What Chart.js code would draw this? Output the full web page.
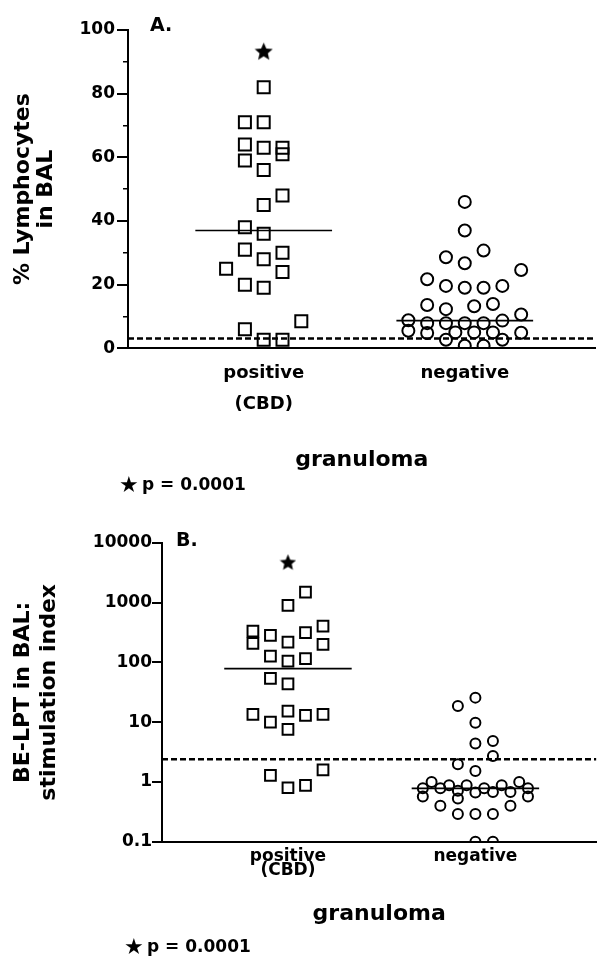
<!DOCTYPE html>
<html><head><meta charset="utf-8">
<script src="https://cdn.jsdelivr.net/npm/chart.js@4"></script>
<style>
html,body{margin:0;padding:0;background:#fff;}
#wrap{position:relative;width:606px;height:964px;background:#fff;}
canvas{position:absolute;left:0;}
#cA{top:0;}
#cB{top:500px;}
</style></head><body>
<div id="wrap"><canvas id="cA" width="606" height="500"></canvas><canvas id="cB" width="606" height="464"></canvas></div>
<script>
// ---------- data ----------
const categories = [['positive', '(CBD)'], 'negative'];
const xTitle = 'granuloma';
const footStar = '\u2605';
const footText = 'p = 0.0001';

// Panel A: % lymphocytes in BAL
const lymphYTitle = ['% Lymphocytes', 'in BAL'];
const lymphTicks = [0, 20, 40, 60, 80, 100];
const lymphMinorTicks = [10, 30, 50, 70, 90];
const lymphPositive = [82, 71, 71, 64, 59, 63, 56, 63, 61, 48, 45, 38, 36, 31, 28, 30, 25, 24, 20, 19, 8.5, 6, 2.7, 2.7];
const lymphPositiveSlot = [0, -1, 0, -1, -1, 0, 0, 1, 1, 1, 0, -1, 0, -1, 0, 1, -2, 1, -1, 0, 2, -1, 0, 1];
const lymphNegative = [46, 37, 28.6, 30.7, 26.7, 24.6, 21.7, 19.6, 19, 19, 19.6, 13.6, 12.3, 13.2, 13.9, 10.6, 8.8, 7.9, 7.9, 7.9, 7.9, 8.7, 5.5, 4.8, 5, 5, 5, 4.9, 2.7, 2.7, 0.8, 0.8];
const lymphNegativeSlot = [0, 0, -1, 1, 0, 3, -2, -1, 0, 1, 2, -2, -1, 0.5, 1.5, 3, -3, -2, -1, 0, 1, 2, -3, -2, -0.5, 0.5, 1.5, 3, -1, 2, 0, 1];
const lymphMedians = [37, 8.7];
const lymphCutoff = 3.1;
const lymphStar = 93.4;

// Panel B: BE-LPT stimulation index
const lptYTitle = ['BE-LPT in BAL:', 'stimulation index'];
const lptTicks = [0.1, 1, 10, 100, 1000, 10000];
const lptTickLabels = ['0.1', '1', '10', '100', '1000', '10000'];
const lptPositive = [1510, 900, 335, 209, 284, 219, 315, 407, 200, 128, 105, 116, 54, 44, 13.5, 10, 15.4, 7.6, 13, 13.5, 1.29, 0.8, 0.88, 1.59];
const lptPositiveSlot = [1, 0, -2, -2, -1, 0, 1, 2, 2, -1, 0, 1, -1, 0, -2, -1, 0, 0, 1, 2, -1, 0, 1, 2];
const lptNegative = [25.8, 18.7, 9.8, 4.4, 4.85, 2.72, 1.98, 1.53, 1.0, 1.0, 0.88, 0.88, 0.88, 0.785, 0.785, 0.785, 0.785, 0.71, 0.68, 0.68, 0.665, 0.57, 0.53, 0.57, 0.4, 0.4, 0.29, 0.29, 0.29, 0.1, 0.1];
const lptNegativeSlot = [0, -1, 0, 0, 1, 1, -1, 0, -2.5, 2.5, -1.5, -0.5, 1.5, -3, -2, 0.5, 3, -1, 1, 2, 0, -3, -1, 3, -2, 2, -1, 0, 1, 0, 1];
const lptMedians = [79, 0.78];
const lptCutoff = 2.4;
const lptStar = 4800;

// ---------- helpers ----------
const FONT = "'DejaVu Sans', sans-serif";
const SLOT = 0.0935;      // horizontal spacing of jittered points (x units)
const MED_HALF = 0.34;    // half width of median bars (x units)

function pts(values, slots, cat) {
  return values.map((v, i) => ({ x: cat + slots[i] * SLOT, y: v }));
}
function starImage(size) {
  const c = document.createElement('canvas');
  c.width = c.height = size;
  const g = c.getContext('2d');
  g.fillStyle = '#000';
  g.beginPath();
  const cx = size / 2, cy = size / 2 + size * 0.05, R = size / 2, r = R * 0.46;
  for (let i = 0; i < 10; i++) {
    const a = -Math.PI / 2 + i * Math.PI / 5;
    const rad = i % 2 ? r : R;
    g.lineTo(cx + rad * Math.cos(a), cy + rad * Math.sin(a));
  }
  g.closePath();
  g.fill();
  return c;
}
const textPlugin = {
  id: 'panelText',
  afterDraw(chart, args, opts) {
    const ctx = chart.ctx;
    ctx.save();
    for (const t of (opts.items || [])) {
      ctx.font = t.font;
      ctx.fillStyle = '#000';
      ctx.textAlign = 'left';
      ctx.textBaseline = 'middle';
      ctx.fillText(t.text, t.x, t.y);
    }
    ctx.restore();
  }
};
Chart.register(textPlugin);

function panel(canvasId, p) {
  const markerBase = { borderColor: '#000', backgroundColor: 'rgba(0,0,0,0)', borderWidth: 2 };
  const lineBase = { type: 'line', borderColor: '#000', pointRadius: 0, fill: false, tension: 0 };
  return new Chart(document.getElementById(canvasId), {
    type: 'scatter',
    data: {
      datasets: [
        Object.assign({ data: pts(p.pos, p.posSlot, 1), pointStyle: 'rect', pointRadius: p.rectR }, markerBase),
        Object.assign({ data: pts(p.neg, p.negSlot, 2), pointStyle: 'circle', pointRadius: p.circR }, markerBase),
        Object.assign({ data: [{ x: 1 - MED_HALF, y: p.medians[0] }, { x: 1 + MED_HALF, y: p.medians[0] }], borderWidth: 1.6 }, lineBase),
        Object.assign({ data: [{ x: 2 - MED_HALF, y: p.medians[1] }, { x: 2 + MED_HALF, y: p.medians[1] }], borderWidth: 1.6 }, lineBase),
        Object.assign({ data: [{ x: p.xMin, y: p.cutoff }, { x: p.xMax, y: p.cutoff }], borderWidth: 2.5, borderDash: [6, 3] }, lineBase),
        { data: [{ x: 1, y: p.star }], pointStyle: starImage(p.starSize), pointRadius: p.starSize / 2 }
      ]
    },
    options: {
      responsive: false,
      animation: false,
      events: [],
      layout: { padding: { top: p.padTop, right: 6, left: 0, bottom: 0 } },
      plugins: {
        legend: { display: false },
        tooltip: { enabled: false },
        panelText: { items: p.texts }
      },
      scales: p.scales
    }
  });
}

// ---------- Panel A ----------
const xMinA = 0.3251, xMaxA = 2.6502;
panel('cA', {
  pos: lymphPositive, posSlot: lymphPositiveSlot,
  neg: lymphNegative, negSlot: lymphNegativeSlot,
  medians: lymphMedians, cutoff: lymphCutoff, star: lymphStar, starSize: 19,
  rectR: 8.5, circR: 6, xMin: xMinA, xMax: xMaxA, padTop: 30,
  texts: [
    { text: 'A.', x: 150, y: 26, font: "bold 19px " + FONT },
    { text: footStar, x: 119, y: 486, font: "bold 22px " + FONT },
    { text: footText, x: 142, y: 486, font: "bold 17px " + FONT }
  ],
  scales: {
    x: {
      type: 'linear', min: xMinA, max: xMaxA,
      afterBuildTicks: s => { s.ticks = categories.map((c, i) => ({ value: i + 1 })); },
      afterFit: s => { s.height = 151.7; },
      grid: { display: false, drawTicks: false },
      border: { display: true, color: '#000', width: 2 },
      ticks: { callback: (v, i) => categories[i], color: '#000', autoSkip: false, maxRotation: 0, padding: 9,
               font: { family: FONT, size: 18, weight: 'bold', lineHeight: 1.75 } },
      title: { display: true, text: xTitle, color: '#000', padding: { top: 0, bottom: 26.8 },
               font: { family: FONT, size: 22, weight: 'bold', lineHeight: 1.2 } }
    },
    yMinor: {
      type: 'linear', position: 'left', min: 0, max: 100, weight: 0,
      afterBuildTicks: s => { s.ticks = lymphMinorTicks.map(v => ({ value: v })); },
      afterFit: s => { s.width = 0; },
      grid: { display: true, drawOnChartArea: false, drawTicks: true, tickLength: 5, color: '#000', lineWidth: 1.5 },
      border: { display: false },
      ticks: { display: false }
    },
    y: {
      type: 'linear', position: 'left', min: 0, max: 100, weight: 1,
      afterBuildTicks: s => { s.ticks = lymphTicks.map(v => ({ value: v })); },
      afterFit: s => { s.width = 128; },
      grid: { display: true, drawOnChartArea: false, drawTicks: true, tickLength: 11, color: '#000', lineWidth: 2 },
      border: { display: true, color: '#000', width: 2 },
      ticks: { callback: (v, i) => String(lymphTicks[i]), color: '#000', padding: 2,
               font: { family: FONT, size: 17, weight: 'bold' } },
      title: { display: true, text: lymphYTitle, color: '#000', padding: { top: 11.5, bottom: 0 },
               font: { family: FONT, size: 22, weight: 'bold', lineHeight: 1.05 } }
    }
  }
});

// ---------- Panel B ----------
const xMinB = 0.328, xMaxB = 2.6455;
panel('cB', {
  pos: lptPositive, posSlot: lptPositiveSlot,
  neg: lptNegative, negSlot: lptNegativeSlot,
  medians: lptMedians, cutoff: lptCutoff, star: lptStar, starSize: 17,
  rectR: 7.6, circR: 5, xMin: xMinB, xMax: xMaxB, padTop: 43,
  texts: [
    { text: 'B.', x: 176, y: 41, font: "bold 19px " + FONT },
    { text: footStar, x: 124, y: 448, font: "bold 22px " + FONT },
    { text: footText, x: 147, y: 448, font: "bold 17px " + FONT }
  ],
  scales: {
    x: {
      type: 'linear', min: xMinB, max: xMaxB,
      afterBuildTicks: s => { s.ticks = categories.map((c, i) => ({ value: i + 1 })); },
      afterFit: s => { s.height = 122.3; },
      grid: { display: false, drawTicks: false },
      border: { display: true, color: '#000', width: 2 },
      ticks: { callback: (v, i) => categories[i], color: '#000', autoSkip: false, maxRotation: 0, padding: 8.5,
               font: { family: FONT, size: 17, weight: 'bold', lineHeight: 0.8 } },
      title: { display: true, text: xTitle, color: '#000', padding: { top: 0, bottom: 36.8 },
               font: { family: FONT, size: 22, weight: 'bold', lineHeight: 1.2 } }
    },
    y: {
      type: 'logarithmic', position: 'left', min: 0.1, max: 10000,
      afterBuildTicks: s => { s.ticks = lptTicks.map(v => ({ value: v })); },
      afterFit: s => { s.width = 162; },
      grid: { display: true, drawOnChartArea: false, drawTicks: true, tickLength: 10, color: '#000', lineWidth: 2 },
      border: { display: true, color: '#000', width: 2 },
      ticks: { callback: (v, i) => lptTickLabels[i], color: '#000', padding: 0,
               font: { family: FONT, size: 17, weight: 'bold' } },
      title: { display: true, text: lptYTitle, color: '#000', padding: { top: 10, bottom: 0 },
               font: { family: FONT, size: 22, weight: 'bold', lineHeight: 1.18 } }
    }
  }
});
</script>
</body></html>
